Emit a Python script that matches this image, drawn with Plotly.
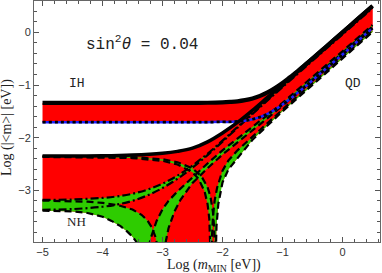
import plotly.graph_objects as go

# ---------------- data (log10 values) ----------------
ih_x   = [-5, -2.5, -2.25, -2, -1.875, -1.75, -1.625, -1.5, -1.375, -1.25, -1.125, -1, -0.875, -0.75, -0.625, -0.5, -0.25, 0, 0.25, 0.5]
ih_up  = [-1.34, -1.338, -1.337, -1.33, -1.322, -1.31, -1.288, -1.255, -1.206, -1.14, -1.057, -0.96, -0.851, -0.74, -0.617, -0.50, -0.25, 0.0, 0.25, 0.5]
ih_low = [-1.705, -1.705, -1.705, -1.70, -1.70, -1.69, -1.68, -1.65, -1.609, -1.55, -1.467, -1.37, -1.266, -1.15, -1.034, -0.91, -0.665, -0.42, -0.17, 0.08]

nh_up_x = [-5, -4, -3.5, -3, -2.75, -2.5, -2.25, -2, -1.75, -1.5, -1.25, -1, -0.75, -0.5, -0.25, 0, 0.25, 0.5]
nh_up   = [-2.35, -2.345, -2.33, -2.295, -2.26, -2.20, -2.08, -1.91, -1.71, -1.48, -1.235, -0.99, -0.74, -0.49, -0.24, 0.005, 0.255, 0.505]

f2_x  = [-5, -4.5, -4, -3.75, -3.5, -3.25, -3, -2.75, -2.5, -2.25, -2, -1.75, -1.5, -1.25, -1, -0.5, 0, 0.5]
f2a_y = [-3.182, -3.173, -3.144, -3.114, -3.064, -2.986, -2.874, -2.721, -2.53, -2.305, -2.057, -1.797, -1.537, -1.281, -1.028, -0.526, -0.026, 0.474]
f2b_y = [-3.37, -3.356, -3.312, -3.268, -3.199, -3.095, -2.956, -2.779, -2.569, -2.331, -2.076, -1.812, -1.550, -1.293, -1.041, -0.539, -0.039, 0.461]

f3a_x = [-5, -4.5, -4.25, -4, -3.75, -3.5, -3.35, -3.25, -3.18, -3.12, -3.08, -3.05, -3.02,
         -2.99, -2.95, -2.9, -2.8, -2.7, -2.5, -2.25, -2, -1.75, -1.5, -1.25, -1, -0.75, -0.5, -0.25, 0, 0.25, 0.5]
f3a_y = [-3.195, -3.205, -3.216, -3.238, -3.279, -3.365, -3.464, -3.576, -3.70, -3.876, -4.08, -4.36, -4.6,
         -4.4, -4.0, -3.72, -3.40, -3.18, -2.86, -2.58, -2.32, -2.09, -1.865, -1.63, -1.39, -1.14, -0.89, -0.64, -0.39, -0.14, 0.11]
f3b_x = [-5, -4.5, -4.25, -4, -3.85, -3.7, -3.6, -3.5, -3.44, -3.4, -3.35, -3.31,
         -3.28, -3.24, -3.2, -3.15, -3.1, -3.0, -2.9, -2.75, -2.5, -2.25, -2, -1.75, -1.5, -1.25, -1, -0.75, -0.5, -0.25, 0, 0.25, 0.5]
f3b_y = [-3.385, -3.40, -3.43, -3.50, -3.58, -3.68, -3.77, -3.88, -3.97, -4.10, -4.44, -4.6,
         -4.53, -4.14, -3.92, -3.73, -3.586, -3.36, -3.20, -3.02, -2.75, -2.49, -2.24, -2.02, -1.80, -1.57, -1.34, -1.09, -0.85, -0.60, -0.36, -0.11, 0.14]

f4a_lx = [-5, -4, -3.5, -3, -2.75, -2.5, -2.35, -2.25, -2.2, -2.16, -2.14, -2.12]
f4a_ly = [-2.351, -2.356, -2.368, -2.41, -2.466, -2.584, -2.736, -2.937, -3.125, -3.406, -3.697, -4.6]
f4a_rx = [-2.12, -2.10, -2.07, -2.03, -2.0, -1.9, -1.75, -1.5, -1.25, -1, -0.75, -0.5, -0.25, 0, 0.25, 0.5]
f4a_ry = [-4.6, -3.677, -3.263, -2.988, -2.85, -2.60, -2.39, -2.04, -1.77, -1.50, -1.25, -0.995, -0.745, -0.495, -0.245, 0.005]
f4b_lx = [-5, -4, -3.5, -3, -2.75, -2.5, -2.4, -2.3, -2.25, -2.22, -2.2, -2.19]
f4b_ly = [-2.365, -2.372, -2.387, -2.44, -2.509, -2.657, -2.782, -3.015, -3.254, -3.54, -4.0, -4.6]
f4b_rx = [-2.19, -2.18, -2.16, -2.13, -2.09, -2.0, -1.9, -1.75, -1.5, -1.25, -1, -0.75, -0.5, -0.25, 0, 0.25, 0.5]
f4b_ry = [-4.6, -4.0, -3.51, -3.19, -2.95, -2.625, -2.43, -2.24, -1.98, -1.73, -1.47, -1.21, -0.96, -0.71, -0.46, -0.21, 0.04]

x_ticks = [-5, -4, -3, -2, -1, 0]
y_ticks = [0, -1, -2, -3]

RED = "#ff0000"
GREEN = "#2ecc00"

fig = go.Figure()

def area(xs, ys, color):
    fig.add_trace(go.Scatter(x=xs, y=ys, mode="lines", fill="toself", fillcolor=color,
                             line=dict(width=0, color=color), hoverinfo="skip", showlegend=False))

def curve(xs, ys, color="black", width=2.0, dash="solid", shape="linear"):
    fig.add_trace(go.Scatter(x=xs, y=ys, mode="lines", line=dict(color=color, width=width, dash=dash, shape=shape),
                             hoverinfo="skip", showlegend=False))

# red IH / QD band
area(ih_x + ih_x[::-1], ih_up + ih_low[::-1], RED)
# red NH band
area(nh_up_x + f4a_rx[::-1] + f3b_x[:12][::-1],
     nh_up + f4a_ry[::-1] + f3b_y[:12][::-1], RED)

# green bands between paired CP-conserving lines
area(f2_x + f2_x[::-1], f2a_y + f2b_y[::-1], GREEN)
area(f3a_x + f3b_x[::-1], f3a_y + f3b_y[::-1], GREEN)
f4a_x = f4a_lx + f4a_rx
f4a_y = f4a_ly + f4a_ry
f4b_x = f4b_lx + f4b_rx
f4b_y = f4b_ly + f4b_ry
area(f4a_x + f4b_x[::-1], f4a_y + f4b_y[::-1], GREEN)

# lines
curve(f2_x, f2a_y, width=2.2, dash="8px,3px,2px,3px", shape="spline")
curve(f2_x, f2b_y, width=2.2, dash="8px,3px,2px,3px", shape="spline")
curve(f3a_x, f3a_y, width=2.2, dash="7px,4px")
curve(f3b_x, f3b_y, width=2.2, dash="7px,4px")
curve(f4a_x, f4a_y, width=2.2, dash="7px,4px")
curve(f4b_x, f4b_y, width=2.2, dash="7px,4px")
curve(ih_x, ih_low, color="#2020ff", width=2.5, shape="spline")
curve(ih_x, ih_low, color="black", width=2.8, dash="3px,3px", shape="spline")
curve(nh_up_x, nh_up, width=3.5, shape="spline")
curve(ih_x, ih_up, width=4.2, shape="spline")

axis_common = dict(showgrid=False, zeroline=False, showline=True, linecolor="#666", linewidth=1,
                   mirror="allticks", ticks="inside", ticklen=5, tickcolor="#555", tickwidth=1,
                   automargin=False,
                   tickfont=dict(family="Liberation Sans", size=11, color="#333"),
                   minor=dict(ticks="inside", ticklen=3, tickcolor="#555", dtick=0.2, showgrid=False))

fig.update_xaxes(range=[-5.142, 0.625], tickvals=x_ticks, **axis_common)
fig.update_yaxes(range=[-3.981, 0.595], tickvals=y_ticks, **axis_common)

anns = [
    dict(x=-3.34, y=-0.22, text="sin<sup>2</sup><i>θ</i> = 0.04", font=dict(family="Liberation Mono", size=16, color="#222")),
    dict(x=-4.42, y=-0.98, text="IH", font=dict(family="Liberation Mono", size=13, color="#222")),
    dict(x=0.18, y=-0.97, text="QD", font=dict(family="Liberation Mono", size=13, color="#222")),
    dict(x=-4.43, y=-3.59, text="NH", font=dict(family="Liberation Serif", size=13, color="#222")),
]
for a in anns:
    a.update(xref="x", yref="y", showarrow=False, xanchor="center", yanchor="middle")
    fig.add_annotation(**a)

fig.add_annotation(x=0.52, y=-0.097, xref="paper", yref="paper", showarrow=False,
                   xanchor="center", yanchor="middle",
                   text="Log (<i>m</i><sub>MIN</sub> [eV])",
                   font=dict(family="Liberation Serif", size=14, color="#222"))
fig.add_annotation(x=-0.078, y=0.473, xref="paper", yref="paper", showarrow=False, textangle=-90,
                   xanchor="center", yanchor="middle",
                   text="Log (|&lt;m&gt;| [eV])",
                   font=dict(family="Liberation Serif", size=14, color="#222"))

fig.update_layout(template="none", width=382, height=273, margin=dict(l=34, r=2, t=1, b=31),
                  paper_bgcolor="white", plot_bgcolor="white")

fig.write_html("out.html", config={"displayModeBar": False},
               post_script="document.body.style.margin='0px';")
